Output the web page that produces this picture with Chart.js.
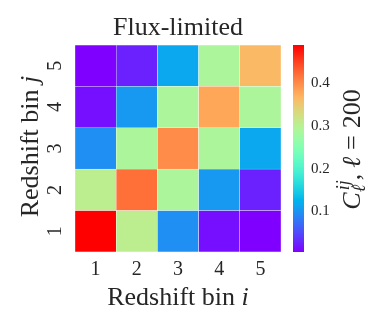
<!DOCTYPE html>
<html>
<head>
<meta charset="utf-8">
<script src="https://cdn.jsdelivr.net/npm/chart.js@4.4.1/dist/chart.umd.min.js"></script>
<style>
  body { margin: 0; background: #fff; }
  #wrap { position: relative; width: 382px; height: 328px; }
  #wrap canvas { position: absolute; left: 0; top: 0; }
</style>
</head>
<body>
<div id="wrap">
  <canvas id="heat" width="382" height="328"></canvas>
  <canvas id="cbar" width="382" height="328"></canvas>
</div>
<script>
// redshift bins, i along x and j along y
const binLabels = ['1', '2', '3', '4', '5'];
// C_l^{ij} at l = 200, rows are j = 1..5, columns are i = 1..5
const cl200 = [
  [0.490, 0.305, 0.097, 0.014, 0.005],
  [0.305, 0.420, 0.290, 0.104, 0.025],
  [0.097, 0.290, 0.400, 0.290, 0.116],
  [0.014, 0.104, 0.290, 0.380, 0.290],
  [0.005, 0.025, 0.116, 0.290, 0.364]
];
const cbarTicks = [0.1, 0.2, 0.3, 0.4];

const vmin = Math.min(...cl200.flat());
const vmax = Math.max(...cl200.flat());

const serif = "'Liberation Serif', 'DejaVu Serif', serif";
const textColor = '#262626';

// matplotlib 'rainbow'
function rainbow(t) {
  t = Math.max(0, Math.min(1, t));
  const clip = v => Math.round(255 * Math.max(0, Math.min(1, v)));
  const r = Math.abs(2 * t - 0.5);
  const g = Math.sin(Math.PI * t);
  const b = Math.cos(Math.PI * t / 2);
  return 'rgb(' + clip(r) + ',' + clip(g) + ',' + clip(b) + ')';
}
function colorFor(v) {
  return rainbow((v - vmin) / (vmax - vmin));
}

function fontOf(s) {
  return (s.it ? 'italic ' : '') + s.size + 'px ' + serif;
}
// parts: list of groups; each group is drawn at the same x (for super/subscripts)
function drawRich(ctx, parts, x, y, angle) {
  ctx.save();
  ctx.translate(x, y);
  ctx.rotate(angle);
  ctx.fillStyle = textColor;
  ctx.textBaseline = 'alphabetic';
  ctx.textAlign = 'left';
  const widths = parts.map(p => Math.max(...p.map(s => {
    if (s.gap) return s.gap;
    ctx.font = fontOf(s);
    return ctx.measureText(s.t).width + (s.dx || 0);
  })));
  let cx = -widths.reduce((a, b) => a + b, 0) / 2;
  parts.forEach((p, k) => {
    p.forEach(s => {
      if (s.gap) return;
      ctx.font = fontOf(s);
      ctx.fillText(s.t, cx + (s.dx || 0), -(s.dy || 0));
    });
    cx += widths[k];
  });
  ctx.restore();
}

const xTitle = [[{t: 'Redshift bin ', size: 26}], [{t: 'i', size: 26, it: true}]];
const yTitle = [[{t: 'Redshift bin ', size: 26}], [{t: 'j', size: 26, it: true}]];
const cbarTitle = [
  [{t: 'C', size: 26, it: true}],
  [{t: 'ij', size: 18, it: true, dy: 11, dx: 2}, {t: 'ℓ', size: 18, it: true, dy: -5}],
  [{t: ',', size: 26}],
  [{gap: 6}],
  [{t: 'ℓ', size: 26, it: true}],
  [{gap: 7}],
  [{t: '=', size: 26}],
  [{gap: 7}],
  [{t: '200', size: 26}]
];

const axisLabels = {
  id: 'axisLabels',
  afterDraw(chart) {
    const a = chart.chartArea;
    drawRich(chart.ctx, xTitle, (a.left + a.right) / 2, a.bottom + 52.5, 0);
    drawRich(chart.ctx, yTitle, a.left - 37.5, (a.top + a.bottom) / 2 - 2, -Math.PI / 2);
  }
};
const cbarLabel = {
  id: 'cbarLabel',
  afterDraw(chart) {
    const a = chart.chartArea;
    drawRich(chart.ctx, cbarTitle, a.right + 55.5, (a.top + a.bottom) / 2 + 1, -Math.PI / 2);
  }
};

// one stacked dataset per row j, each cell one unit tall
const rows = cl200.map((row, j) => ({
  label: 'j=' + binLabels[j],
  data: binLabels.map(() => 1),
  backgroundColor: row.map(colorFor),
  borderColor: 'rgba(255,255,255,0.7)',
  borderWidth: 0.5,
  borderSkipped: false,
  barPercentage: 1,
  categoryPercentage: 1
}));

new Chart(document.getElementById('heat'), {
  type: 'bar',
  data: { labels: binLabels, datasets: rows },
  options: {
    responsive: false,
    animation: false,
    layout: { padding: { left: 0, right: 101, top: 0, bottom: 0 } },
    plugins: {
      legend: { display: false },
      tooltip: { enabled: false },
      title: {
        display: true,
        text: 'Flux-limited',
        fullSize: false,
        color: textColor,
        font: { family: serif, size: 26, weight: 'normal', lineHeight: 1 },
        padding: { top: 15, bottom: 4 }
      }
    },
    scales: {
      x: {
        stacked: true,
        grid: { display: false, drawTicks: false },
        border: { display: false },
        ticks: { color: textColor, font: { family: serif, size: 20 }, padding: 6 },
        afterFit: s => { s.height = 76; }
      },
      y: {
        stacked: true,
        min: 0,
        max: binLabels.length,
        grid: { display: false, drawTicks: false },
        border: { display: false },
        afterBuildTicks: s => { s.ticks = binLabels.map((l, k) => ({ value: k + 0.5 })); },
        ticks: {
          color: textColor,
          font: { family: serif, size: 20 },
          minRotation: 90,
          maxRotation: 90,
          crossAlign: 'center',
          padding: 14.5,
          callback: (v, idx) => binLabels[idx]
        },
        afterFit: s => { s.width = 75; }
      }
    }
  },
  plugins: [axisLabels]
});

new Chart(document.getElementById('cbar'), {
  type: 'bar',
  data: {
    labels: [''],
    datasets: [{
      data: [[vmin, vmax]],
      backgroundColor: c => {
        const chart = c.chart;
        if (!chart.chartArea) return null;
        const y = chart.scales.y;
        const g = chart.ctx.createLinearGradient(0, y.getPixelForValue(vmin), 0, y.getPixelForValue(vmax));
        for (let k = 0; k <= 40; k++) g.addColorStop(k / 40, rainbow(k / 40));
        return g;
      },
      borderWidth: 0,
      barPercentage: 1,
      categoryPercentage: 1
    }]
  },
  options: {
    responsive: false,
    animation: false,
    layout: { padding: { left: 293, right: 0, top: 45, bottom: 76 } },
    plugins: { legend: { display: false }, tooltip: { enabled: false } },
    scales: {
      x: { display: false },
      y: {
        position: 'right',
        min: vmin,
        max: vmax,
        grid: { display: false, drawTicks: false },
        border: { display: false },
        afterBuildTicks: s => { s.ticks = cbarTicks.map(v => ({ value: v })); },
        ticks: { color: textColor, font: { family: serif, size: 15 }, padding: 7, callback: v => v.toFixed(1) },
        afterFit: s => { s.width = 78; }
      }
    }
  },
  plugins: [cbarLabel]
});
</script>
</body>
</html>
